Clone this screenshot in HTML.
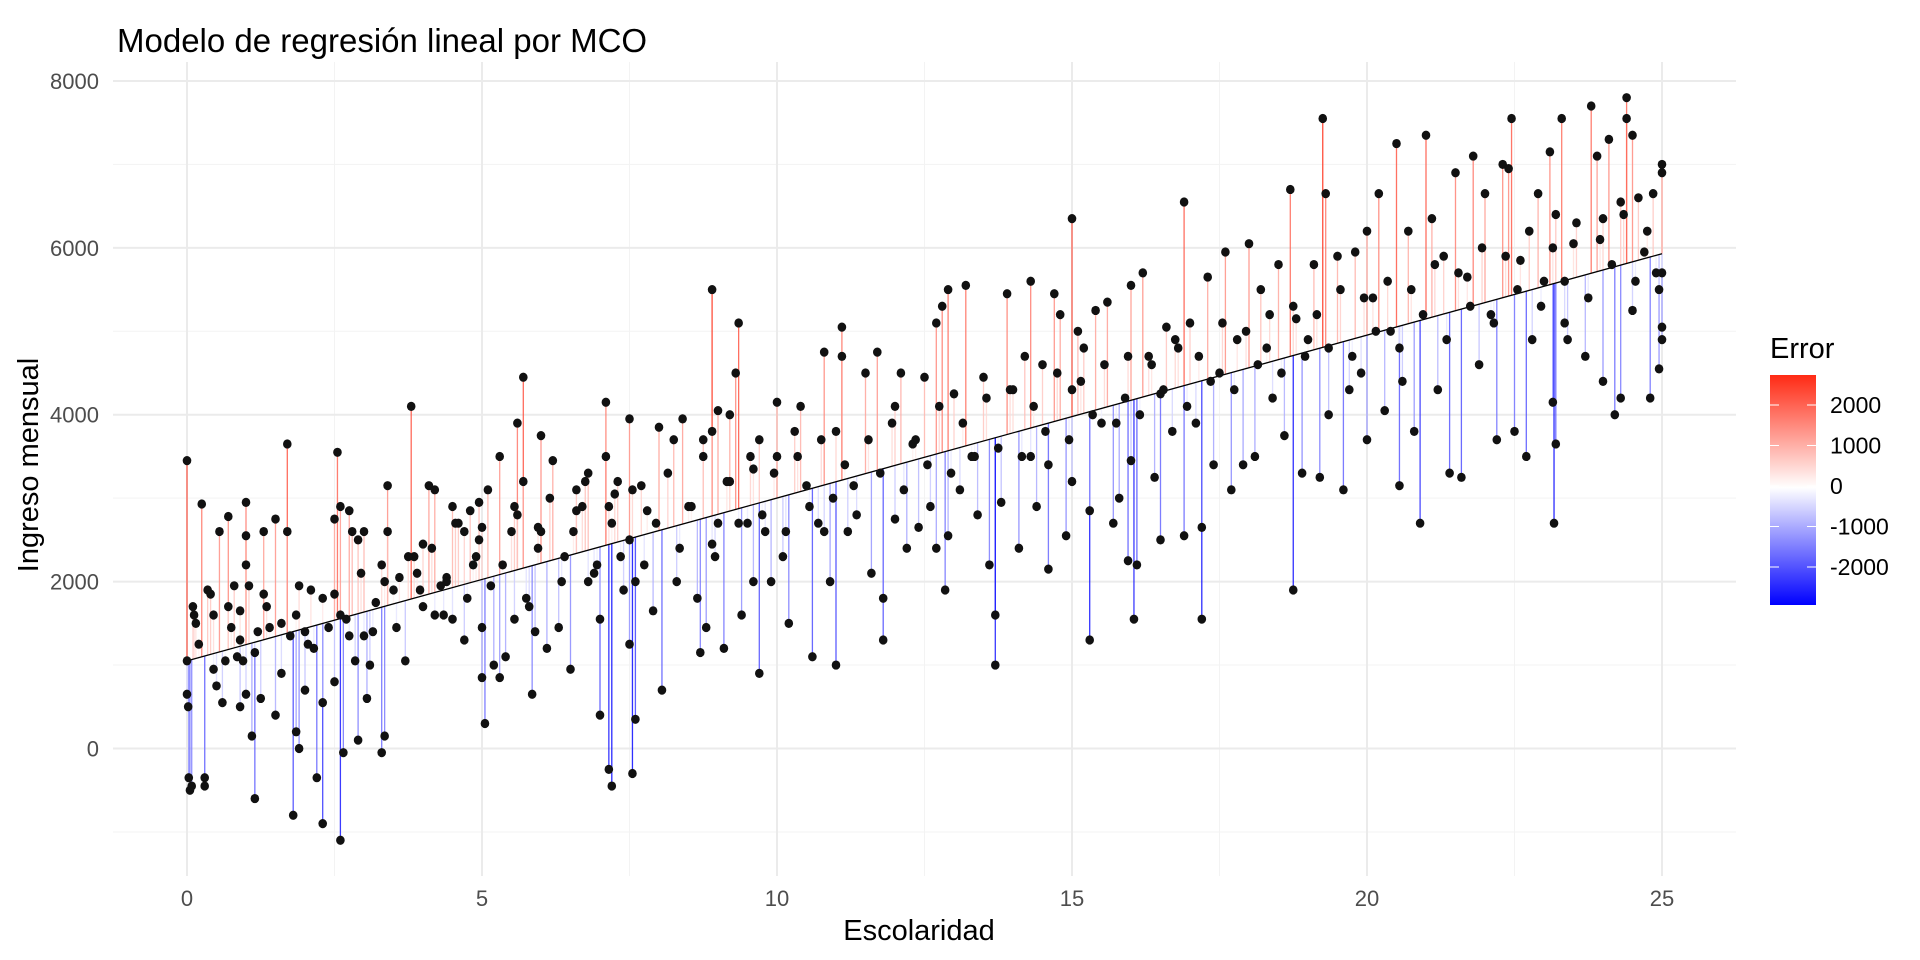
<!DOCTYPE html>
<html><head><meta charset="utf-8"><style>
html,body{margin:0;padding:0;background:#fff;width:1920px;height:960px;overflow:hidden;font-family:"Liberation Sans",sans-serif}
</style></head><body>
<svg id="chart" width="1920" height="960" xmlns="http://www.w3.org/2000/svg">
<defs><linearGradient id="errgrad" x1="0" y1="1" x2="0" y2="0">
<stop offset="0" stop-color="#0000ff"/><stop offset="0.51" stop-color="#ffffff"/><stop offset="1" stop-color="#ff2a14"/></linearGradient></defs>
<g id="grid"></g>
<g id="segs"></g>
<g id="fit"></g>
<g id="pts"></g>
<g id="axes"></g>
<text x="117" y="52" font-size="33" fill="#000">Modelo de regresión lineal por MCO</text>
<text x="919" y="940" font-size="29" text-anchor="middle" fill="#000">Escolaridad</text>
<text transform="translate(38,465) rotate(-90)" font-size="29" text-anchor="middle" fill="#000">Ingreso mensual</text>
<g>
<text x="1770" y="358" font-size="29" fill="#000">Error</text>
<rect x="1770" y="375" width="46" height="230" fill="url(#errgrad)"/>
<g id="legticks"></g>
</g>
</svg>
<script>
const escolaridad=[0,0,0,0.02,0.03,0.05,0.08,0.1,0.12,0.15,0.25,0.3,0.3,0.35,0.4,0.45,0.5,0.55,0.6,0.7,0.7,0.75,0.8,0.85,0.9,0.95,1.0,1.0,1.0,1.0,0.9,
1.05,1.1,1.15,1.2,1.25,1.3,1.3,1.4,1.5,1.5,1.6,1.7,1.7,1.75,1.8,1.85,1.9,1.9,2.0,2.0,
2.1,2.15,2.2,2.3,2.3,2.4,2.5,2.5,2.5,2.55,2.6,2.6,2.65,2.7,2.75,2.8,2.85,2.9,2.9,3.0,3.0,
3.05,3.1,3.2,3.3,3.3,3.35,3.4,3.4,3.5,3.6,3.7,3.8,3.85,3.9,4.0,4.0,4.1,4.2,4.2,
4.4,4.5,4.5,4.6,4.7,4.8,4.9,5.0,5.0,5.0,4.95,4.7,4.85,5.05,4.3,4.4,
5.1,5.2,5.3,5.3,5.4,5.5,5.6,5.7,5.7,5.8,5.85,5.9,5.95,6.0,6.1,6.0,5.55,5.6,
6.2,6.3,6.4,6.5,6.6,6.6,6.7,6.8,6.8,6.9,7.0,7.0,7.1,7.2,7.25,7.3,7.4,7.5,7.5,7.5,
7.6,7.7,7.8,7.9,8.0,8.05,7.1,7.15,7.2,8.25,8.3,8.4,8.5,7.55,7.6,8.65,8.7,8.75,8.8,8.9,9.0,
8.9,8.9,9.0,9.1,9.2,9.3,9.35,9.4,9.5,9.6,9.7,9.7,9.8,9.9,10.0,10.0,10.1,10.2,9.2,9.6,
10.4,10.5,10.6,10.7,10.8,10.9,11.0,11.0,11.1,11.1,11.2,11.3,11.5,11.6,11.7,11.8,11.8,10.3,10.8,
12.0,12.0,12.1,12.2,12.3,12.4,12.5,12.6,12.7,12.7,12.8,12.85,12.9,12.9,13.0,13.1,13.2,13.3,13.4,13.6,13.7,13.7,13.5,
13.8,13.9,14.0,14.1,14.2,14.3,14.3,14.4,14.5,14.6,14.6,14.7,14.8,14.9,15.0,15.0,15.0,15.1,15.2,15.3,15.3,15.4,15.5,
15.6,15.7,15.8,15.9,15.95,16.0,16.0,16.05,16.1,16.2,16.3,16.4,16.5,16.5,16.6,16.7,16.8,16.9,16.9,17.0,17.1,17.2,17.2,
17.3,17.4,17.5,17.6,17.7,17.8,17.9,18.0,18.1,18.2,18.3,18.4,18.5,18.6,18.7,18.75,18.8,18.9,19.0,19.1,19.2,19.25,19.3,19.35,
19.5,19.6,19.7,19.8,19.9,20.0,20.0,20.1,20.2,20.3,20.4,20.5,20.55,20.6,20.7,20.8,20.9,21.0,21.1,21.2,21.3,21.4,
21.5,21.6,21.7,21.8,21.9,22.0,22.1,22.2,22.3,22.4,22.45,22.5,22.6,22.7,22.8,22.9,23.0,23.1,23.15,23.2,23.3,23.35,23.4,
23.5,23.17,23.2,23.7,23.8,23.9,24.0,24.0,24.1,24.2,24.3,24.3,24.4,24.5,24.5,24.6,24.7,24.4,24.8,24.85,24.9,24.95,25.0,25.0,25.0,25.0,25.0,
0.2,0.45,0.65,0.9,1.15,1.35,1.6,1.85,2.05,2.3,2.6,2.75,2.95,3.15,3.35,3.55,3.75,3.95,4.15,4.35,4.55,4.75,4.95,5.15,5.35,5.55,5.75,5.95,
6.15,6.35,6.55,6.75,6.95,7.15,7.35,7.55,7.75,7.95,8.15,8.35,8.55,8.75,8.95,9.15,9.35,9.55,9.75,9.95,10.15,10.35,10.55,10.75,10.95,11.15,11.35,11.55,11.75,11.95,
12.15,12.35,12.55,12.75,12.95,13.15,13.35,13.55,13.75,13.95,14.15,14.35,14.55,14.75,14.95,15.15,15.35,15.55,15.75,15.95,16.15,16.35,16.55,16.75,16.95,
17.15,17.35,17.55,17.75,17.95,18.15,18.35,18.55,18.75,18.95,19.15,19.35,19.55,19.75,19.95,20.15,20.35,20.55,20.75,20.95,21.15,21.35,21.55,21.75,21.95,
22.15,22.35,22.55,22.75,22.95,23.15,23.35,23.55,23.75,23.95,24.15,24.35,24.55,24.75,24.95];
const ingreso=[3450,1050,650,500,-350,-500,-450,1700,1600,1500,2930,-350,-450,1900,1850,950,750,2600,550,2780,1700,1450,1950,1100,500,1050,2950,2550,2200,650,1300,
1950,150,-600,1400,600,1850,2600,1450,2750,400,1500,3650,2600,1350,-800,200,0,1950,700,1400,
1900,1200,-350,-900,550,1450,800,1850,2750,3550,2900,-1100,-50,1550,2850,2600,1050,100,2500,1350,2600,
600,1000,1750,-50,2200,150,3150,2600,1900,2050,1050,4100,2300,2100,2450,1700,3150,3100,1600,
2050,1550,2900,2700,1300,2850,2300,2650,850,1450,2950,2600,2200,300,1950,2000,
3100,1000,3500,850,1100,2600,3900,4450,3200,1700,650,1400,2650,2600,1200,3750,1550,2800,
3450,1450,2300,950,2850,3100,2900,3300,2000,2100,400,1550,3500,2700,3050,3200,1900,2500,3950,1250,
2000,3150,2850,1650,3850,700,4150,-250,-450,3700,2000,3950,2900,-300,350,1800,1150,3700,1450,2450,4050,
5500,3800,2700,1200,4000,4500,5100,1600,2700,3350,900,3700,2600,2000,3500,4150,2300,1500,3200,2000,
4100,3150,1100,2700,4750,2000,1000,3800,5050,4700,2600,3150,4500,2100,4750,1300,1800,3800,2600,
4100,2750,4500,2400,3650,2650,4450,2900,2400,5100,5300,1900,5500,2550,4250,3100,5550,3500,2800,2200,1600,1000,4450,
2950,5450,4300,2400,4700,5600,3500,2900,4600,3400,2150,5450,5200,2550,4300,6350,3200,5000,4800,1300,2850,5250,3900,
5350,2700,3000,4200,2250,5550,3450,1550,2200,5700,4700,3250,4250,2500,5050,3800,4800,6550,2550,5100,3900,1550,2650,
5650,3400,4500,5950,3100,4900,3400,6050,3500,5500,4800,4200,5800,3750,6700,1900,5150,3300,4900,5800,3250,7550,6650,4000,
5900,3100,4300,5950,4500,6200,3700,5400,6650,4050,5000,7250,3150,4400,6200,3800,2700,7350,6350,4300,5900,3300,
6900,3250,5650,7100,4600,6650,5200,3700,7000,6950,7550,3800,5850,3500,4900,6650,5600,7150,4150,6400,7550,5100,4900,
6050,2700,3650,4700,7700,7100,6350,4400,7300,4000,6550,4200,7550,7350,5250,6600,5950,7800,4200,6650,5700,4550,6900,5050,4900,7000,5700,
1250,1600,1050,1650,1150,1700,900,1600,1250,1800,1600,1350,2100,1400,2000,1450,2300,1900,2400,1600,2700,1800,2500,1950,2200,2900,1800,2400,
3000,2000,2600,3200,2200,2900,2300,3100,2200,2700,3300,2400,2900,3500,2300,3200,2700,3500,2800,3300,2600,3500,2900,3700,3000,3400,2800,3700,3300,3900,
3100,3700,3400,4100,3300,3900,3500,4200,3600,4300,3500,4100,3800,4500,3700,4400,4000,4600,3900,4700,4000,4600,4300,4900,4100,
4700,4400,5100,4300,5000,4600,5200,4500,5300,4700,5200,4800,5500,4700,5400,5000,5600,4800,5500,5200,5800,4900,5700,5300,6000,
5100,5900,5500,6200,5300,6000,5600,6300,5400,6100,5800,6400,5600,6200,5500];
const xTicks=[0,5,10,15,20,25];
const yTicks=[0,2000,4000,6000,8000];
const legendTicks=[2000,1000,0,-1000,-2000];
const fitIntercept=1050, fitSlope=195.2;

const NS="http://www.w3.org/2000/svg";
const X=v=>187+v*59.0;
const Y=v=>748.5-v*0.08344;
const LY=v=>486-v*0.0405;
function mk(tag,at,parent){const e=document.createElementNS(NS,tag);for(const k in at)e.setAttribute(k,at[k]);parent.appendChild(e);return e;}
const grid=document.getElementById('grid'),segs=document.getElementById('segs'),pts=document.getElementById('pts'),axes=document.getElementById('axes');
const L=113,R=1736,T=62,B=876;
for(let v=-1000;v<=7000;v+=2000){const l=mk('line',{x1:L,x2:R,y1:Y(v),y2:Y(v),stroke:'#f3f3f3','stroke-width':1},grid);

}
for(let v=2.5;v<25;v+=5){const l=mk('line',{x1:X(v),x2:X(v),y1:T,y2:B,stroke:'#f3f3f3','stroke-width':1},grid);

}
yTicks.forEach(v=>{const l=mk('line',{x1:L,x2:R,y1:Y(v),y2:Y(v),stroke:'#ebebeb','stroke-width':2},grid);


const t=mk('text',{x:99,y:Y(v)+8,'text-anchor':'end','font-size':22,fill:'#4d4d4d'},axes);t.textContent=v;

});
xTicks.forEach(v=>{const l=mk('line',{x1:X(v),x2:X(v),y1:T,y2:B,stroke:'#ebebeb','stroke-width':2},grid);


const t=mk('text',{x:X(v),y:906,'text-anchor':'middle','font-size':22,fill:'#4d4d4d'},axes);t.textContent=v;

});
function col(e){
  function lerp(a,b,t){return a.map((c,i)=>Math.round(c+(b[i]-c)*t));}
  let c;
  if(e>=0){c=lerp([255,255,255],[255,42,20],Math.min(1,e/2800));}
  else{c=lerp([255,255,255],[0,0,255],Math.min(1,-e/2950));}
  return 'rgb('+c.join(',')+')';
}
const fitv=x=>fitIntercept+fitSlope*x;
for(let i=0;i<escolaridad.length;i++){
  const x=escolaridad[i],y=ingreso[i],f=fitv(x);
  const s=mk('line',{x1:X(x),x2:X(x),y1:Y(f),y2:Y(y),stroke:col(y-f),'stroke-width':1.3,'stroke-opacity':0.85},segs);
  
  
}
const fl=mk('line',{x1:X(0),y1:Y(fitv(0)),x2:X(25),y2:Y(fitv(25)),stroke:'#000','stroke-width':1.3},document.getElementById('fit'));


for(let i=0;i<escolaridad.length;i++){
  const p=mk('ellipse',{cx:X(escolaridad[i]),cy:Y(ingreso[i]),rx:4.3,ry:4.6,fill:'#111'},pts);
  
  
}
const lt=document.getElementById('legticks');
legendTicks.forEach(v=>{
  const a=mk('line',{x1:1770,x2:1779,y1:LY(v),y2:LY(v),stroke:'#fff','stroke-width':1},lt);
  
  
  const b=mk('line',{x1:1807,x2:1816,y1:LY(v),y2:LY(v),stroke:'#fff','stroke-width':1},lt);
  
  
  const t=mk('text',{x:1830,y:LY(v)+8,'font-size':23,fill:'#000'},lt);t.textContent=v;
  
  
});
</script>
</body></html>
